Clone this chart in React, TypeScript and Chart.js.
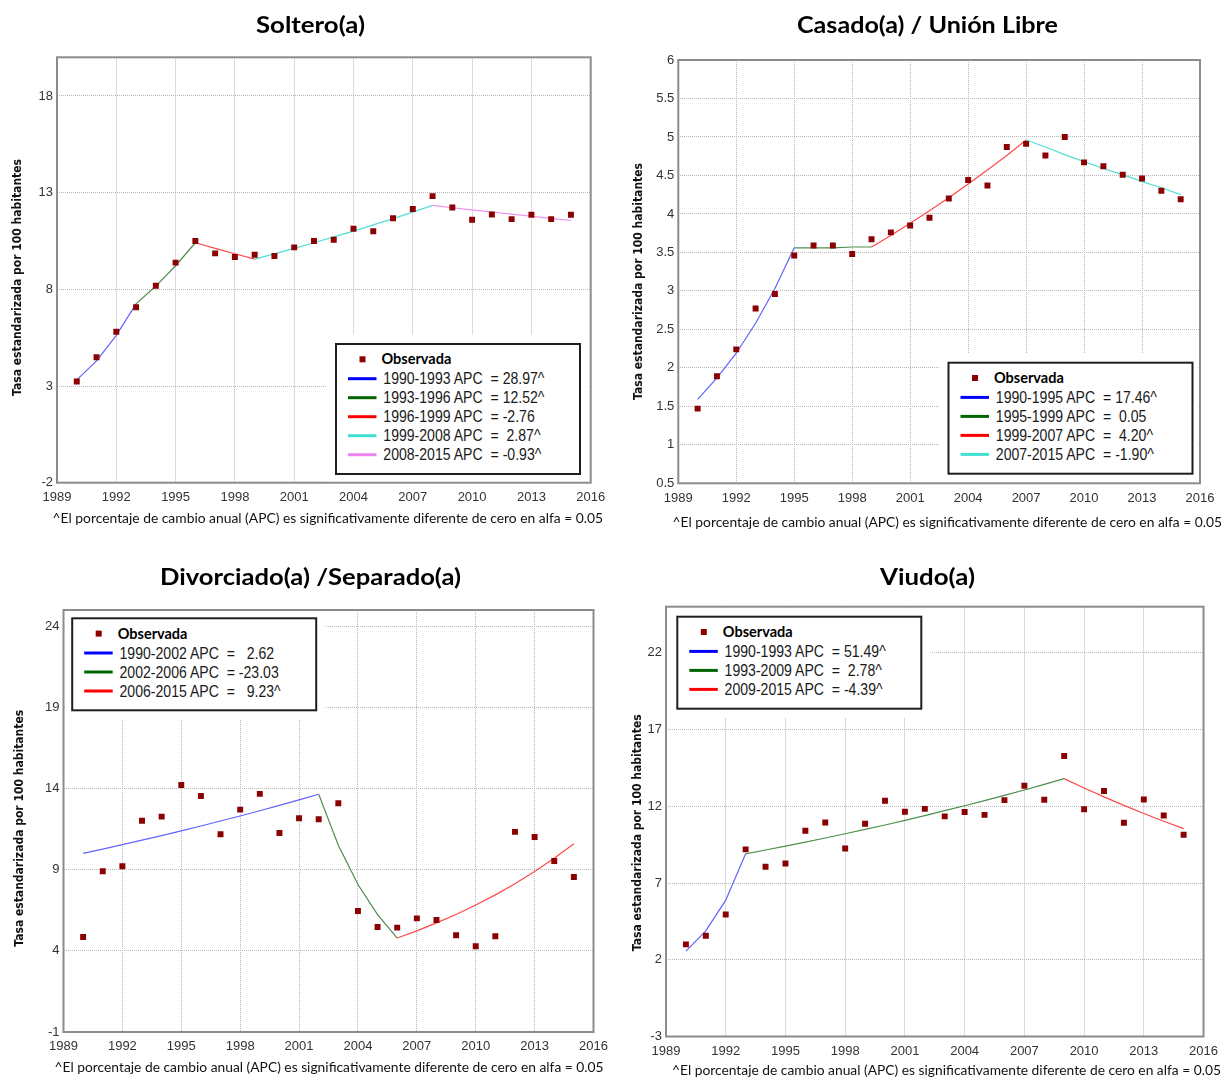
import React, { useEffect, useRef } from 'react';
import { Chart, registerables } from 'chart.js';

Chart.register(...registerables);

const PAGE_W = 1225;
const PAGE_H = 1078;

const YEARS = [1990, 1991, 1992, 1993, 1994, 1995, 1996, 1997, 1998, 1999, 2000, 2001, 2002,
  2003, 2004, 2005, 2006, 2007, 2008, 2009, 2010, 2011, 2012, 2013, 2014, 2015];
const X_TICKS = [1989, 1992, 1995, 1998, 2001, 2004, 2007, 2010, 2013, 2016];

// ---- Soltero(a)
const SOLTERO_OBS = [3.23, 4.49, 5.81, 7.07, 8.19, 9.38, 10.5, 9.86, 9.67, 9.79, 9.72, 10.17, 10.5,
  10.56, 11.13, 11.0, 11.68, 12.15, 12.82, 12.23, 11.6, 11.87, 11.63, 11.86, 11.63, 11.86];
const SOLTERO_Y_TICKS = [-2, 3, 8, 13, 18];
const SOLTERO_FIT_1990_1993 = [3.32, 4.3, 5.62, 7.25];
const SOLTERO_FIT_1993_1996 = [7.25, 8.17, 9.22, 10.41];
const SOLTERO_FIT_1996_1999 = [10.41, 10.12, 9.84, 9.56];
const SOLTERO_FIT_1999_2008 = [9.56, 9.83, 10.12, 10.41, 10.71, 11.01, 11.33, 11.66, 11.99, 12.34];
const SOLTERO_FIT_2008_2015 = [12.34, 12.22, 12.11, 12.0, 11.89, 11.78, 11.67, 11.56];

// ---- Casado(a) / Unión Libre
const CASADO_OBS = [1.47, 1.89, 2.24, 2.77, 2.96, 3.46, 3.59, 3.59, 3.48, 3.67, 3.76, 3.85, 3.95,
  4.2, 4.44, 4.37, 4.87, 4.91, 4.76, 5.0, 4.67, 4.62, 4.51, 4.46, 4.3, 4.19];
const CASADO_Y_TICKS = [0.5, 1, 1.5, 2, 2.5, 3, 3.5, 4, 4.5, 5, 5.5, 6];
const CASADO_FIT_1990_1995 = [1.59, 1.87, 2.19, 2.58, 3.03, 3.56];
const CASADO_FIT_1995_1999 = [3.56, 3.56, 3.56, 3.57, 3.57];
const CASADO_FIT_1999_2007 = [3.57, 3.72, 3.88, 4.04, 4.21, 4.39, 4.57, 4.76, 4.96];
const CASADO_FIT_2007_2015 = [4.96, 4.87, 4.77, 4.68, 4.59, 4.51, 4.42, 4.34, 4.25];

// ---- Divorciado(a) /Separado(a)
const DIVORCIADO_OBS = [4.85, 8.9, 9.21, 12.02, 12.27, 14.22, 13.54, 11.18, 12.7, 13.67, 11.26, 12.17,
  12.11, 13.09, 6.46, 5.47, 5.43, 6.0, 5.9, 4.96, 4.28, 4.9, 11.33, 11.02, 9.54, 8.55];
const DIVORCIADO_Y_TICKS = [-1, 4, 9, 14, 19, 24];
const DIVORCIADO_FIT_1990_2002 = [10.01, 10.27, 10.54, 10.82, 11.1, 11.39, 11.69, 12.0, 12.31, 12.63,
  12.96, 13.3, 13.65];
const DIVORCIADO_FIT_2002_2006 = [13.65, 10.51, 8.09, 6.23, 4.79];
const DIVORCIADO_FIT_2006_2015 = [4.79, 5.23, 5.72, 6.24, 6.82, 7.45, 8.14, 8.89, 9.71, 10.6];

// ---- Viudo(a)
const VIUDO_OBS = [3.0, 3.56, 4.95, 9.19, 8.06, 8.27, 10.4, 10.94, 9.25, 10.86, 12.36, 11.64, 11.83,
  11.34, 11.62, 11.44, 12.4, 13.33, 12.42, 15.27, 11.81, 12.99, 10.92, 12.44, 11.4, 10.14];
const VIUDO_Y_TICKS = [-3, 2, 7, 12, 17, 22];
const VIUDO_FIT_1990_1993 = [2.56, 3.88, 5.88, 8.9];
const VIUDO_FIT_1993_2009 = [8.9, 9.15, 9.4, 9.66, 9.93, 10.21, 10.49, 10.78, 11.08, 11.39, 11.71,
  12.03, 12.37, 12.71, 13.06, 13.43, 13.8];
const VIUDO_FIT_2009_2015 = [13.8, 13.19, 12.61, 12.06, 11.53, 11.02, 10.54];

const FOOTNOTE = '^El porcentaje de cambio anual (APC) es significativamente diferente de cero en alfa = 0.05';
const Y_TITLE = 'Tasa estandarizada por 100 habitantes';

const C = {
  blue: '#0000ff',
  green: '#006400',
  red: '#ff0000',
  cyan: '#40e0d0',
  violet: '#ee82ee',
};
const LINE_C = {
  blue: '#6262ff',
  green: '#4e8e4e',
  red: '#ff4a4a',
  cyan: '#4fe0d2',
  violet: '#ef8cef',
};

type Seg = { from: number; to: number; values: number[]; key: keyof typeof C; label: string; apc: string };
type Panel = {
  id: string;
  title: string;
  titleX: number; titleW: number; titleY: number;
  footX: number; footW: number; footY: number;
  yTitleX: number; yTitleY: number;
  plot: { l: number; t: number; r: number; b: number };
  yMin: number; yMax: number; yTicks: number[];
  obs: number[];
  segs: Seg[];
  legend: { x: number; y: number };
};

const PANELS: Panel[] = [
  {
    id: 'soltero', title: 'Soltero(a)', titleX: 256, titleW: 109, titleY: 33,
    footX: 52.6, footW: 550.5, footY: 523,
    yTitleX: 17, yTitleY: 277.5,
    plot: { l: 57, t: 57.3, r: 590.7, b: 482.7 },
    yMin: -2, yMax: 20, yTicks: SOLTERO_Y_TICKS, obs: SOLTERO_OBS,
    segs: [
      { from: 1990, to: 1993, values: SOLTERO_FIT_1990_1993, key: 'blue', label: '1990-1993 APC', apc: '= 28.97^' },
      { from: 1993, to: 1996, values: SOLTERO_FIT_1993_1996, key: 'green', label: '1993-1996 APC', apc: '= 12.52^' },
      { from: 1996, to: 1999, values: SOLTERO_FIT_1996_1999, key: 'red', label: '1996-1999 APC', apc: '= -2.76' },
      { from: 1999, to: 2008, values: SOLTERO_FIT_1999_2008, key: 'cyan', label: '1999-2008 APC', apc: '=  2.87^' },
      { from: 2008, to: 2015, values: SOLTERO_FIT_2008_2015, key: 'violet', label: '2008-2015 APC', apc: '= -0.93^' },
    ],
    legend: { x: 336, y: 344 },
  },
  {
    id: 'casado', title: 'Casado(a) / Unión Libre', titleX: 797, titleW: 261, titleY: 33,
    footX: 672.6, footW: 549.5, footY: 526.5,
    yTitleX: 637.5, yTitleY: 281.5,
    plot: { l: 678.3, t: 60, r: 1200, b: 483.3 },
    yMin: 0.5, yMax: 6, yTicks: CASADO_Y_TICKS, obs: CASADO_OBS,
    segs: [
      { from: 1990, to: 1995, values: CASADO_FIT_1990_1995, key: 'blue', label: '1990-1995 APC', apc: '= 17.46^' },
      { from: 1995, to: 1999, values: CASADO_FIT_1995_1999, key: 'green', label: '1995-1999 APC', apc: '=  0.05' },
      { from: 1999, to: 2007, values: CASADO_FIT_1999_2007, key: 'red', label: '1999-2007 APC', apc: '=  4.20^' },
      { from: 2007, to: 2015, values: CASADO_FIT_2007_2015, key: 'cyan', label: '2007-2015 APC', apc: '= -1.90^' },
    ],
    legend: { x: 948.5, y: 362.7 },
  },
  {
    id: 'divorciado', title: 'Divorciado(a) /Separado(a)', titleX: 160, titleW: 301, titleY: 585,
    footX: 54.6, footW: 549, footY: 1072,
    yTitleX: 19.5, yTitleY: 828.3,
    plot: { l: 63.5, t: 610, r: 593.5, b: 1032 },
    yMin: -1, yMax: 25, yTicks: DIVORCIADO_Y_TICKS, obs: DIVORCIADO_OBS,
    segs: [
      { from: 1990, to: 2002, values: DIVORCIADO_FIT_1990_2002, key: 'blue', label: '1990-2002 APC', apc: '=   2.62' },
      { from: 2002, to: 2006, values: DIVORCIADO_FIT_2002_2006, key: 'green', label: '2002-2006 APC', apc: '= -23.03' },
      { from: 2006, to: 2015, values: DIVORCIADO_FIT_2006_2015, key: 'red', label: '2006-2015 APC', apc: '=   9.23^' },
    ],
    legend: { x: 72.2, y: 618.3 },
  },
  {
    id: 'viudo', title: 'Viudo(a)', titleX: 880, titleW: 95, titleY: 585,
    footX: 672, footW: 549, footY: 1075,
    yTitleX: 637.2, yTitleY: 832.8,
    plot: { l: 666, t: 606.7, r: 1204.3, b: 1036.5 },
    yMin: -3, yMax: 25, yTicks: VIUDO_Y_TICKS, obs: VIUDO_OBS,
    segs: [
      { from: 1990, to: 1993, values: VIUDO_FIT_1990_1993, key: 'blue', label: '1990-1993 APC', apc: '= 51.49^' },
      { from: 1993, to: 2009, values: VIUDO_FIT_1993_2009, key: 'green', label: '1993-2009 APC', apc: '=  2.78^' },
      { from: 2009, to: 2015, values: VIUDO_FIT_2009_2015, key: 'red', label: '2009-2015 APC', apc: '= -4.39^' },
    ],
    legend: { x: 677.3, y: 616.7 },
  },
];

const Y_AXIS_W = 40;
const X_AXIS_H = 30;
const TICK_FONT = { family: "'Liberation Sans Narrow', 'Liberation Sans', Arial, sans-serif", size: 13 };

const borderPlugin = {
  id: 'plotBorder',
  afterDraw(chart: any) {
    const { ctx, chartArea: a } = chart;
    ctx.save();
    ctx.strokeStyle = '#8c8c8c';
    ctx.lineWidth = 2;
    ctx.strokeRect(a.left, a.top, a.right - a.left, a.bottom - a.top);
    ctx.restore();
  },
};

function PanelChart({ p }: { p: Panel }) {
  const ref = useRef<HTMLCanvasElement | null>(null);
  useEffect(() => {
    if (!ref.current) return;
    const datasets: any[] = [
      {
        label: 'Observada',
        data: YEARS.map((x, i) => ({ x, y: p.obs[i] })),
        showLine: false,
        pointStyle: 'rect',
        pointRadius: 4.2,
        pointBackgroundColor: '#8b0000',
        pointBorderColor: '#8b0000',
        pointBorderWidth: 0,
      },
      ...p.segs.map((s) => ({
        label: s.label,
        data: YEARS.slice(s.from - 1990, s.to - 1990 + 1).map((x, i) => ({ x, y: s.values[i] })),
        showLine: true,
        borderColor: LINE_C[s.key],
        borderWidth: 1.2,
        pointRadius: 0,
        tension: 0,
      })),
    ];
    const chart = new Chart(ref.current, {
      type: 'scatter',
      data: { datasets },
      plugins: [borderPlugin],
      options: {
        animation: false,
        responsive: false,
        events: [],
        layout: {
          padding: {
            left: p.plot.l - Y_AXIS_W,
            top: p.plot.t,
            right: PAGE_W - p.plot.r,
            bottom: PAGE_H - p.plot.b - X_AXIS_H,
          },
        },
        plugins: { legend: { display: false }, tooltip: { enabled: false }, title: { display: false } },
        scales: {
          x: {
            type: 'linear',
            min: 1989,
            max: 2016,
            afterBuildTicks: (s: any) => { s.ticks = X_TICKS.map((v) => ({ value: v })); },
            afterFit: (s: any) => { s.height = X_AXIS_H; },
            grid: { color: '#b9b9b9', lineWidth: 1, drawTicks: false },
            border: { display: false, dash: [1, 1] },
            ticks: { padding: 7, color: '#333', font: TICK_FONT, autoSkip: false, maxRotation: 0, callback: (v: any) => String(v) },
          },
          y: {
            type: 'linear',
            min: p.yMin,
            max: p.yMax,
            afterBuildTicks: (s: any) => { s.ticks = p.yTicks.map((v) => ({ value: v })); },
            afterFit: (s: any) => { s.width = Y_AXIS_W; },
            grid: { color: '#b9b9b9', lineWidth: 1, drawTicks: false },
            border: { display: false, dash: [1, 1] },
            ticks: { padding: 4, color: '#333', font: TICK_FONT, autoSkip: false, callback: (v: any) => String(v) },
          },
        },
      } as any,
    });
    return () => chart.destroy();
  }, [p]);
  return (
    <canvas
      ref={ref}
      width={PAGE_W}
      height={PAGE_H}
      style={{ position: 'absolute', left: 0, top: 0, width: PAGE_W, height: PAGE_H }}
    />
  );
}

const LEG_W = 244;
const SX = 0.88;

function PanelText({ p }: { p: Panel }) {
  const n = p.segs.length;
  const lx = p.legend.x;
  const ly = p.legend.y;
  const lh = 35 + n * 19;
  const pad = 9;
  const wx1 = Math.max(lx - pad, p.plot.l + 1.5);
  const wy1 = Math.max(ly - pad, p.plot.t + 1.5);
  const wx2 = Math.min(lx + LEG_W + pad, p.plot.r - 1.5);
  const wy2 = Math.min(ly + lh + pad, p.plot.b - 1.5);
  const rowFont = "'Liberation Sans', Arial, sans-serif";
  return (
    <g>
      <text x={p.titleX} y={p.titleY} textLength={p.titleW} lengthAdjust="spacingAndGlyphs"
        fontFamily="Lato, 'Open Sans', sans-serif" fontWeight={700} fontSize={22} fill="#000">{p.title}</text>
      <text x={p.footX} y={p.footY} textLength={p.footW} lengthAdjust="spacingAndGlyphs"
        fontFamily="Lato, 'Open Sans', sans-serif" fontSize={13.5} fill="#111">{FOOTNOTE}</text>
      <text x={p.yTitleX} y={p.yTitleY} transform={`rotate(-90 ${p.yTitleX} ${p.yTitleY})`}
        textAnchor="middle" dominantBaseline="central" textLength={237} lengthAdjust="spacingAndGlyphs"
        fontFamily="'DejaVu Sans', sans-serif" fontWeight={700} fontSize={12} fill="#111">{Y_TITLE}</text>
      <rect x={wx1} y={wy1} width={wx2 - wx1} height={wy2 - wy1} fill="#fff" />
      <rect x={lx} y={ly} width={LEG_W} height={lh} fill="#fff" stroke="#1e1e1e" strokeWidth={2} />
      <rect x={lx + 26.5 - 3} y={ly + 15.3 - 3} width={6} height={6} fill="#8b0000" />
      <text x={lx + 45.5} y={ly + 15.3 + 5} fontFamily="Lato, 'Open Sans', sans-serif" fontWeight={700}
        fontSize={14.5} fill="#000">Observada</text>
      {p.segs.map((s, i) => {
        const cy = ly + 34.7 + 19 * i;
        const by = cy + 5.7;
        return (
          <g key={s.label}>
            <line x1={lx + 12} x2={lx + 40.5} y1={cy} y2={cy} stroke={C[s.key]} strokeWidth={3} />
            <text transform={`translate(${lx + 47.3} ${by}) scale(${SX} 1)`} fontFamily={rowFont}
              fontSize={16} fill="#1a1a1a">{s.label}</text>
            <text transform={`translate(${lx + 154.5} ${by}) scale(${SX} 1)`} fontFamily={rowFont}
              fontSize={16} fill="#1a1a1a" style={{ whiteSpace: 'pre' }}>{s.apc}</text>
          </g>
        );
      })}
    </g>
  );
}

export default function App() {
  return (
    <div style={{ position: 'absolute', left: 0, top: 0, width: PAGE_W, height: PAGE_H, background: '#fff', overflow: 'hidden' }}>
      {PANELS.map((p) => <PanelChart key={p.id} p={p} />)}
      <svg width={PAGE_W} height={PAGE_H} style={{ position: 'absolute', left: 0, top: 0 }}>
        {PANELS.map((p) => <PanelText key={p.id} p={p} />)}
      </svg>
    </div>
  );
}
